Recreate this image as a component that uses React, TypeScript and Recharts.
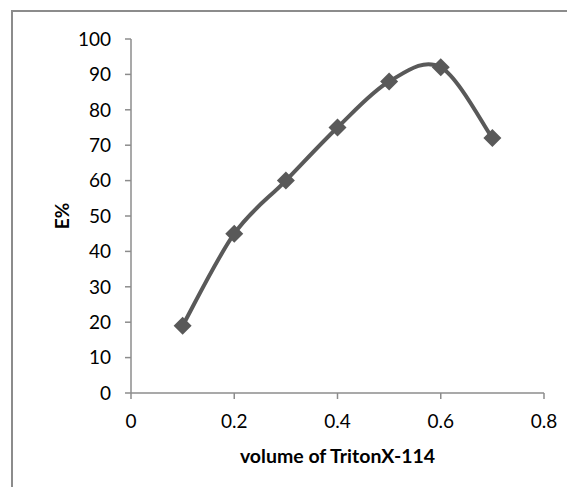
import React from 'react';
import { LineChart, Line, XAxis, YAxis } from 'recharts';

// Extraction efficiency versus surfactant volume
const volumes = [0.1, 0.2, 0.3, 0.4, 0.5, 0.6, 0.7];
const efficiency = [19, 45, 60, 75, 88, 92, 72];
const xTicks = [0, 0.2, 0.4, 0.6, 0.8];
const yTicks = [0, 10, 20, 30, 40, 50, 60, 70, 80, 90, 100];

const data = volumes.map((v, i) => ({ volume: v, e: efficiency[i] }));

const FONT = 'Lato, "Open Sans", sans-serif';
const LINE = '#595959';
const AXIS = '#8c8c8c';

// Catmull-Rom style smoothing (control points at 1/6 of neighbour span)
const smoothCurve: any = (context: any) => {
  let pts: number[][] = [];
  return {
    areaStart() {},
    areaEnd() {},
    lineStart() {
      pts = [];
    },
    point(x: number, y: number) {
      pts.push([+x, +y]);
    },
    lineEnd() {
      const n = pts.length;
      if (!n) return;
      context.moveTo(pts[0][0], pts[0][1]);
      for (let i = 0; i < n - 1; i++) {
        const p0 = pts[Math.max(i - 1, 0)];
        const p1 = pts[i];
        const p2 = pts[i + 1];
        const p3 = pts[Math.min(i + 2, n - 1)];
        const c1x = p1[0] + (p2[0] - p0[0]) / 6;
        const c1y = p1[1] + (p2[1] - p0[1]) / 6;
        const c2x = p2[0] - (p3[0] - p1[0]) / 6;
        const c2y = p2[1] - (p3[1] - p1[1]) / 6;
        context.bezierCurveTo(c1x, c1y, c2x, c2y, p2[0], p2[1]);
      }
    },
  };
};

const Diamond = (props: any) => {
  const { cx, cy, index } = props;
  if (cx == null || cy == null) return null;
  const r = 9;
  return (
    <polygon
      key={`d-${index}`}
      points={`${cx},${cy - r} ${cx + r},${cy} ${cx},${cy + r} ${cx - r},${cy}`}
      fill={LINE}
      stroke="none"
    />
  );
};

const YTitle = (props: any) => {
  const vb = props.viewBox || {};
  const cx = vb.x + 33;
  const cy = vb.y + vb.height / 2;
  return (
    <text
      x={cx}
      y={cy}
      transform={`rotate(-90, ${cx}, ${cy})`}
      textAnchor="middle"
      dominantBaseline="central"
      fontFamily={FONT}
      fontWeight="bold"
      fontSize={19}
      fill="#000"
    >
      E%
    </text>
  );
};

const XTitle = (props: any) => {
  const vb = props.viewBox || {};
  const cx = vb.x + vb.width / 2;
  const cy = vb.y + 62;
  return (
    <text
      x={cx}
      y={cy}
      textAnchor="middle"
      dominantBaseline="central"
      fontFamily={FONT}
      fontWeight="bold"
      fontSize={19.5}
      fill="#000"
    >
      volume of TritonX-114
    </text>
  );
};

export default function App() {
  return (
    <div style={{ position: 'relative', width: 567, height: 479, overflow: 'hidden', background: '#fff' }}>
      <div
        style={{
          position: 'absolute',
          left: 3,
          top: 2,
          width: 700,
          height: 700,
          borderLeft: `2px solid ${AXIS}`,
          borderTop: `2px solid ${AXIS}`,
        }}
      />
      <div style={{ position: 'absolute', left: 0, top: 0 }}>
        <LineChart
          width={567}
          height={479}
          data={data}
          margin={{ top: 31, right: 31, bottom: 0, left: 20 }}
        >
          <XAxis
            type="number"
            dataKey="volume"
            domain={[0, 0.8]}
            ticks={xTicks}
            tickFormatter={(v: number) => String(v)}
            stroke={AXIS}
            strokeWidth={1.5}
            tickSize={6}
            tickMargin={16}
            tick={{ fill: '#000', fontFamily: FONT, fontSize: 19 }}
            interval={0}
            height={94}
            label={<XTitle />}
          />
          <YAxis
            type="number"
            domain={[0, 100]}
            ticks={yTicks}
            stroke={AXIS}
            strokeWidth={1.5}
            tickSize={6}
            tickMargin={14}
            tick={{ fill: '#000', fontFamily: FONT, fontSize: 19 }}
            interval={0}
            width={103}
            label={<YTitle />}
          />
          <Line
            dataKey="e"
            type={smoothCurve}
            stroke={LINE}
            strokeWidth={4}
            dot={<Diamond />}
            activeDot={false}
            isAnimationActive={false}
          />
        </LineChart>
      </div>
    </div>
  );
}
